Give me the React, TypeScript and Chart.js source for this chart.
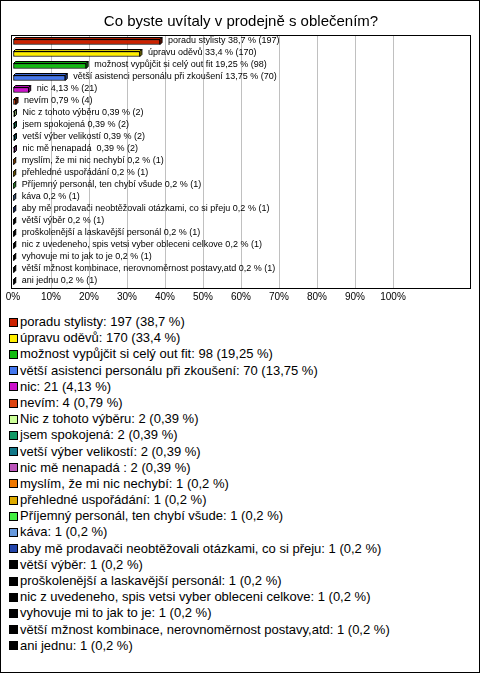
import React, { useEffect, useRef } from "react";
import { Chart, registerables } from "chart.js";

Chart.register(...registerables);

const title = "Co byste uvítaly v prodejně s oblečením?";

const categories = [
  "poradu stylisty",
  "úpravu oděvů",
  "možnost vypůjčit si celý out fit",
  "větší asistenci personálu při zkoušení",
  "nic",
  "nevím",
  "Nic z tohoto výběru",
  "jsem spokojená",
  "vetší výber velikostí",
  "nic mě nenapadá ",
  "myslím, že mi nic nechybí",
  "přehledné uspořádání",
  "Příjemný personál, ten chybí všude",
  "káva",
  "aby mě prodavači neobtěžovali otázkami, co si přeju",
  "větší výběr",
  "proškolenější a laskavější personál",
  "nic z uvedeneho, spis vetsi vyber obleceni celkove",
  "vyhovuje mi to jak to je",
  "větší mžnost kombinace, nerovnoměrnost postavy,atd",
  "ani jednu",
];

const counts = [197, 170, 98, 70, 21, 4, 2, 2, 2, 2, 1, 1, 1, 1, 1, 1, 1, 1, 1, 1, 1];

const percents = [38.7, 33.4, 19.25, 13.75, 4.13, 0.79, 0.39, 0.39, 0.39, 0.39, 0.2, 0.2, 0.2, 0.2, 0.2, 0.2, 0.2, 0.2, 0.2, 0.2, 0.2];

const colors = [
  "#cc2200", "#ffee00", "#11bb11", "#4477ee", "#cc11cc", "#dd4411", "#ccff99",
  "#119966", "#117788", "#bb55bb", "#ee7700", "#ddaa00", "#44ee44", "#6699dd",
  "#2244aa", "#000000", "#000000", "#000000", "#000000", "#000000", "#000000",
];

const tickValues = [0, 10, 20, 30, 40, 50, 60, 70, 80, 90, 100];

const fmt = (p: number) => String(p).replace(".", ",");

function shade(hex: string, f: number) {
  const n = parseInt(hex.slice(1), 16);
  const r = Math.round(((n >> 16) & 255) * f);
  const g = Math.round(((n >> 8) & 255) * f);
  const b = Math.round((n & 255) * f);
  return `rgb(${r},${g},${b})`;
}

const DEPTH = 2;

const barExtras = {
  id: "barExtras",
  beforeDatasetsDraw(chart: any) {
    const { ctx, chartArea } = chart;
    ctx.save();
    ctx.strokeStyle = "#000";
    ctx.lineWidth = 1;
    ctx.strokeRect(chartArea.left - 1.5, chartArea.top - 0.5, chartArea.right - chartArea.left + 3, chartArea.bottom - chartArea.top + 1);
    ctx.restore();
  },
  afterDatasetsDraw(chart: any) {
    const { ctx } = chart;
    const meta = chart.getDatasetMeta(0);
    ctx.save();
    meta.data.forEach((el: any, i: number) => {
      const { x, y, base, height } = el.getProps(["x", "y", "base", "height"], true);
      const top = y - height / 2;
      const bottom = y + height / 2;
      const d = DEPTH;
      ctx.lineWidth = 1;
      ctx.strokeStyle = "#000";
      ctx.beginPath();
      ctx.moveTo(base, top);
      ctx.lineTo(base + d, top - d);
      ctx.lineTo(x + d, top - d);
      ctx.lineTo(x, top);
      ctx.closePath();
      ctx.fillStyle = shade(colors[i], 0.85);
      ctx.fill();
      ctx.stroke();
      ctx.beginPath();
      ctx.moveTo(x, top);
      ctx.lineTo(x + d, top - d);
      ctx.lineTo(x + d, bottom - d);
      ctx.lineTo(x, bottom);
      ctx.closePath();
      ctx.fillStyle = shade(colors[i], 0.6);
      ctx.fill();
      ctx.stroke();
      ctx.fillStyle = "#000";
      ctx.font = "9px 'Liberation Sans', Arial, sans-serif";
      ctx.textBaseline = "middle";
      ctx.textAlign = "left";
      ctx.fillText(`${categories[i]} ${fmt(percents[i])} % (${counts[i]})`, x + d + 6, y - 1);
    });
    ctx.restore();
  },
};

export default function App() {
  const ref = useRef<HTMLCanvasElement>(null);

  useEffect(() => {
    if (!ref.current) return;
    const chart = new Chart(ref.current, {
      type: "bar",
      data: {
        labels: categories,
        datasets: [
          {
            data: percents,
            backgroundColor: colors,
            borderColor: "#000",
            borderWidth: 1,
            borderSkipped: false,
            barThickness: 5,
          },
        ],
      },
      options: {
        indexAxis: "y",
        responsive: false,
        animation: false,
        layout: { padding: { left: 12, right: 12, top: 0, bottom: 5 } },
        plugins: {
          legend: { display: false },
          tooltip: { enabled: false },
          title: {
            display: true,
            text: title,
            color: "#000",
            font: { family: "'Liberation Sans', Arial, sans-serif", size: 15, weight: "normal" },
            padding: { top: 12, bottom: 5 },
          },
        },
        scales: {
          x: {
            type: "linear",
            min: 0,
            max: 120,
            afterBuildTicks(scale: any) {
              scale.ticks = tickValues.map((v) => ({ value: v }));
            },
            ticks: {
              color: "#000",
              padding: 3,
              maxRotation: 0,
              font: { family: "'Liberation Sans', Arial, sans-serif", size: 10 },
              callback: (v: any) => `${v}%`,
            },
            grid: {
              color: (c: any) => (c.tick && c.tick.value > 0 ? "#c0c0c0" : "transparent"),
              drawTicks: false,
            },
            border: { display: false },
          },
          y: {
            type: "category",
            display: false,
          },
        },
      },
      plugins: [barExtras],
    });
    return () => chart.destroy();
  }, []);

  return (
    <div
      style={{
        position: "fixed",
        top: 0,
        left: 0,
        width: 480,
        height: 673,
        boxSizing: "border-box",
        border: "1px solid #000",
        background: "#fff",
        fontFamily: "'Liberation Sans', Arial, sans-serif",
      }}
    >
      <canvas ref={ref} width={480} height={310} style={{ position: "absolute", top: 0, left: 0 }} />
      <div style={{ position: "absolute", top: 313, left: 8 }}>
        {categories.map((c, i) => (
          <div key={i} style={{ height: 16.2, lineHeight: "16.2px", fontSize: 13, whiteSpace: "pre", display: "flex", alignItems: "center" }}>
            <span
              style={{
                display: "inline-block",
                width: 9,
                height: 9,
                boxSizing: "border-box",
                border: "1px solid #000",
                background: colors[i],
                marginRight: 2,
              }}
            />
            <span>{`${c}: ${counts[i]} (${fmt(percents[i])} %)`}</span>
          </div>
        ))}
      </div>
    </div>
  );
}
